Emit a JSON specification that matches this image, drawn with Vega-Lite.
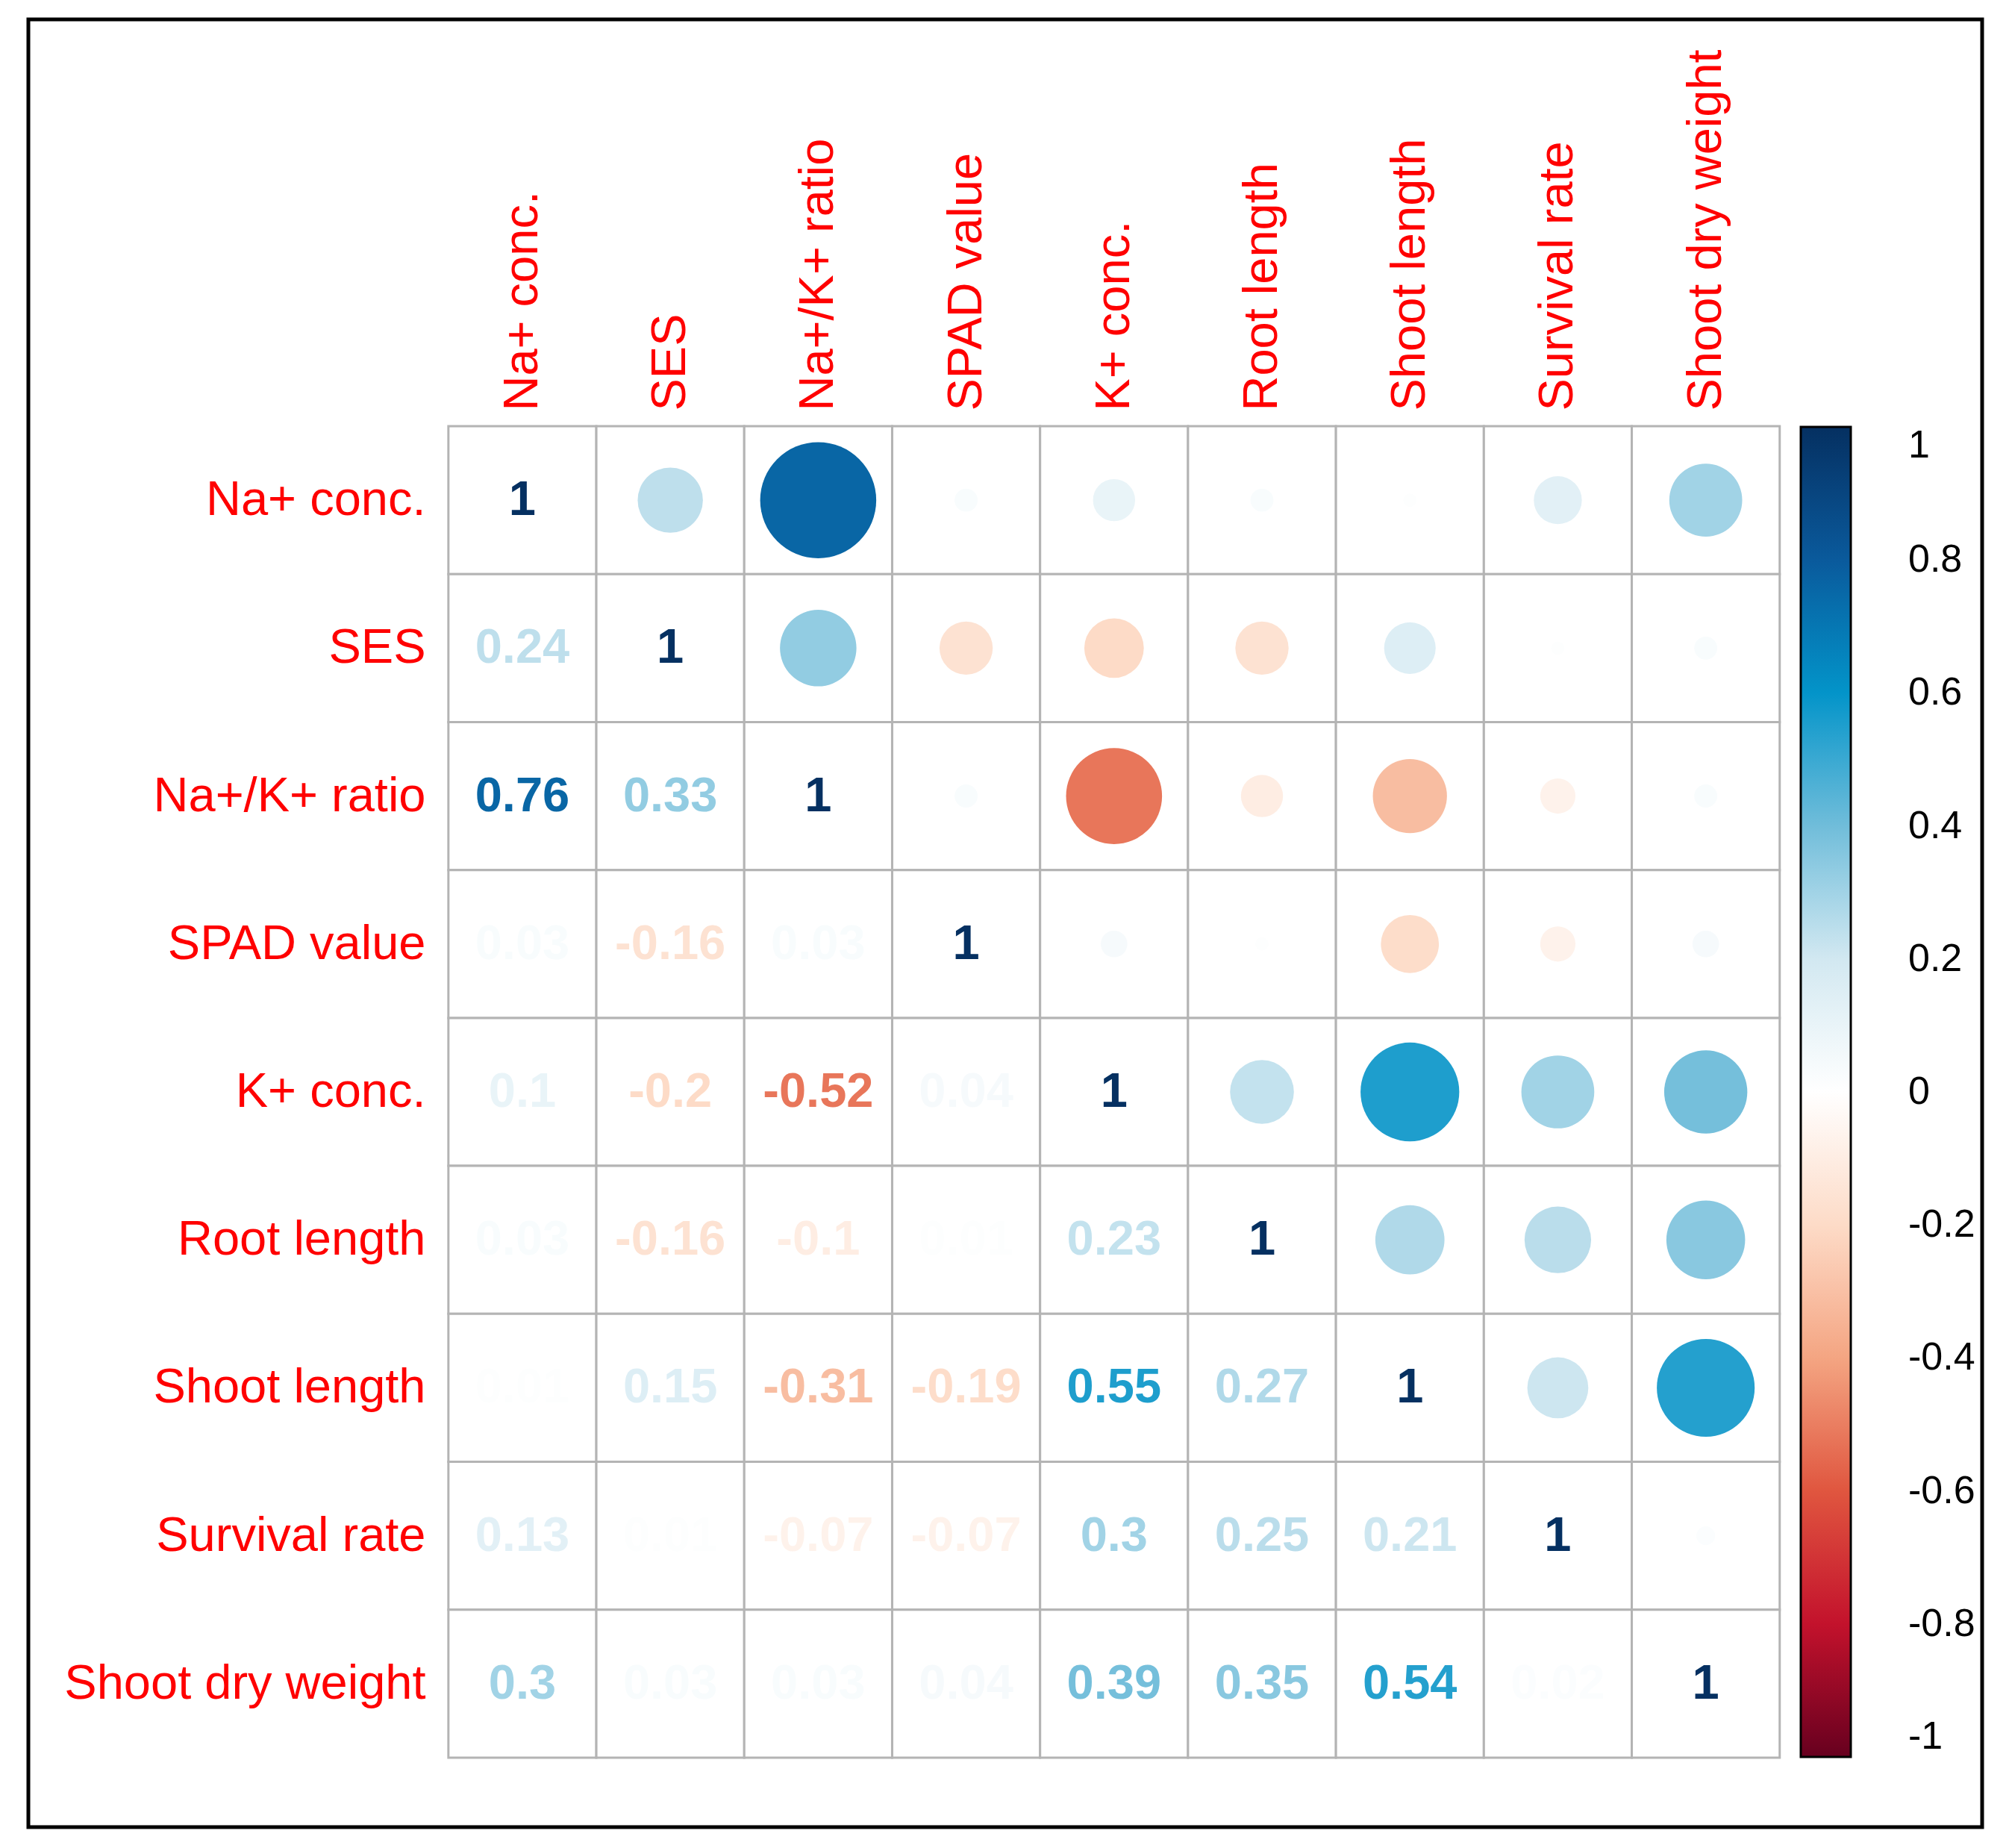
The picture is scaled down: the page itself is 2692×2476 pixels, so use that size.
{
  "$schema": "https://vega.github.io/schema/vega-lite/v6.json",
  "autosize": {"type": "none"},
  "width": 2618,
  "height": 2422,
  "padding": {"left": 38, "top": 26, "right": 36, "bottom": 28},
  "background": "white",
  "config": {
    "view": {"stroke": "black", "strokeWidth": 5, "fill": "white"},
    "font": "Liberation Sans"
  },
  "data": {"values": [
    {"row":"Na+ conc.","col":"Na+ conc.","r":1,"part":"diag"},
    {"row":"Na+ conc.","col":"SES","r":0.24,"part":"upper"},
    {"row":"Na+ conc.","col":"Na+/K+ ratio","r":0.76,"part":"upper"},
    {"row":"Na+ conc.","col":"SPAD value","r":0.03,"part":"upper"},
    {"row":"Na+ conc.","col":"K+ conc.","r":0.1,"part":"upper"},
    {"row":"Na+ conc.","col":"Root length","r":0.03,"part":"upper"},
    {"row":"Na+ conc.","col":"Shoot length","r":0.01,"part":"upper"},
    {"row":"Na+ conc.","col":"Survival rate","r":0.13,"part":"upper"},
    {"row":"Na+ conc.","col":"Shoot dry weight","r":0.3,"part":"upper"},
    {"row":"SES","col":"Na+ conc.","r":0.24,"part":"lower"},
    {"row":"SES","col":"SES","r":1,"part":"diag"},
    {"row":"SES","col":"Na+/K+ ratio","r":0.33,"part":"upper"},
    {"row":"SES","col":"SPAD value","r":-0.16,"part":"upper"},
    {"row":"SES","col":"K+ conc.","r":-0.2,"part":"upper"},
    {"row":"SES","col":"Root length","r":-0.16,"part":"upper"},
    {"row":"SES","col":"Shoot length","r":0.15,"part":"upper"},
    {"row":"SES","col":"Survival rate","r":0.01,"part":"upper"},
    {"row":"SES","col":"Shoot dry weight","r":0.03,"part":"upper"},
    {"row":"Na+/K+ ratio","col":"Na+ conc.","r":0.76,"part":"lower"},
    {"row":"Na+/K+ ratio","col":"SES","r":0.33,"part":"lower"},
    {"row":"Na+/K+ ratio","col":"Na+/K+ ratio","r":1,"part":"diag"},
    {"row":"Na+/K+ ratio","col":"SPAD value","r":0.03,"part":"upper"},
    {"row":"Na+/K+ ratio","col":"K+ conc.","r":-0.52,"part":"upper"},
    {"row":"Na+/K+ ratio","col":"Root length","r":-0.1,"part":"upper"},
    {"row":"Na+/K+ ratio","col":"Shoot length","r":-0.31,"part":"upper"},
    {"row":"Na+/K+ ratio","col":"Survival rate","r":-0.07,"part":"upper"},
    {"row":"Na+/K+ ratio","col":"Shoot dry weight","r":0.03,"part":"upper"},
    {"row":"SPAD value","col":"Na+ conc.","r":0.03,"part":"lower"},
    {"row":"SPAD value","col":"SES","r":-0.16,"part":"lower"},
    {"row":"SPAD value","col":"Na+/K+ ratio","r":0.03,"part":"lower"},
    {"row":"SPAD value","col":"SPAD value","r":1,"part":"diag"},
    {"row":"SPAD value","col":"K+ conc.","r":0.04,"part":"upper"},
    {"row":"SPAD value","col":"Root length","r":0.01,"part":"upper"},
    {"row":"SPAD value","col":"Shoot length","r":-0.19,"part":"upper"},
    {"row":"SPAD value","col":"Survival rate","r":-0.07,"part":"upper"},
    {"row":"SPAD value","col":"Shoot dry weight","r":0.04,"part":"upper"},
    {"row":"K+ conc.","col":"Na+ conc.","r":0.1,"part":"lower"},
    {"row":"K+ conc.","col":"SES","r":-0.2,"part":"lower"},
    {"row":"K+ conc.","col":"Na+/K+ ratio","r":-0.52,"part":"lower"},
    {"row":"K+ conc.","col":"SPAD value","r":0.04,"part":"lower"},
    {"row":"K+ conc.","col":"K+ conc.","r":1,"part":"diag"},
    {"row":"K+ conc.","col":"Root length","r":0.23,"part":"upper"},
    {"row":"K+ conc.","col":"Shoot length","r":0.55,"part":"upper"},
    {"row":"K+ conc.","col":"Survival rate","r":0.3,"part":"upper"},
    {"row":"K+ conc.","col":"Shoot dry weight","r":0.39,"part":"upper"},
    {"row":"Root length","col":"Na+ conc.","r":0.03,"part":"lower"},
    {"row":"Root length","col":"SES","r":-0.16,"part":"lower"},
    {"row":"Root length","col":"Na+/K+ ratio","r":-0.1,"part":"lower"},
    {"row":"Root length","col":"SPAD value","r":0.01,"part":"lower"},
    {"row":"Root length","col":"K+ conc.","r":0.23,"part":"lower"},
    {"row":"Root length","col":"Root length","r":1,"part":"diag"},
    {"row":"Root length","col":"Shoot length","r":0.27,"part":"upper"},
    {"row":"Root length","col":"Survival rate","r":0.25,"part":"upper"},
    {"row":"Root length","col":"Shoot dry weight","r":0.35,"part":"upper"},
    {"row":"Shoot length","col":"Na+ conc.","r":0.01,"part":"lower"},
    {"row":"Shoot length","col":"SES","r":0.15,"part":"lower"},
    {"row":"Shoot length","col":"Na+/K+ ratio","r":-0.31,"part":"lower"},
    {"row":"Shoot length","col":"SPAD value","r":-0.19,"part":"lower"},
    {"row":"Shoot length","col":"K+ conc.","r":0.55,"part":"lower"},
    {"row":"Shoot length","col":"Root length","r":0.27,"part":"lower"},
    {"row":"Shoot length","col":"Shoot length","r":1,"part":"diag"},
    {"row":"Shoot length","col":"Survival rate","r":0.21,"part":"upper"},
    {"row":"Shoot length","col":"Shoot dry weight","r":0.54,"part":"upper"},
    {"row":"Survival rate","col":"Na+ conc.","r":0.13,"part":"lower"},
    {"row":"Survival rate","col":"SES","r":0.01,"part":"lower"},
    {"row":"Survival rate","col":"Na+/K+ ratio","r":-0.07,"part":"lower"},
    {"row":"Survival rate","col":"SPAD value","r":-0.07,"part":"lower"},
    {"row":"Survival rate","col":"K+ conc.","r":0.3,"part":"lower"},
    {"row":"Survival rate","col":"Root length","r":0.25,"part":"lower"},
    {"row":"Survival rate","col":"Shoot length","r":0.21,"part":"lower"},
    {"row":"Survival rate","col":"Survival rate","r":1,"part":"diag"},
    {"row":"Survival rate","col":"Shoot dry weight","r":0.02,"part":"upper"},
    {"row":"Shoot dry weight","col":"Na+ conc.","r":0.3,"part":"lower"},
    {"row":"Shoot dry weight","col":"SES","r":0.03,"part":"lower"},
    {"row":"Shoot dry weight","col":"Na+/K+ ratio","r":0.03,"part":"lower"},
    {"row":"Shoot dry weight","col":"SPAD value","r":0.04,"part":"lower"},
    {"row":"Shoot dry weight","col":"K+ conc.","r":0.39,"part":"lower"},
    {"row":"Shoot dry weight","col":"Root length","r":0.35,"part":"lower"},
    {"row":"Shoot dry weight","col":"Shoot length","r":0.54,"part":"lower"},
    {"row":"Shoot dry weight","col":"Survival rate","r":0.02,"part":"lower"},
    {"row":"Shoot dry weight","col":"Shoot dry weight","r":1,"part":"diag"}
  ]},
  "transform": [
    {"calculate": "abs(datum.r)", "as": "absr"},
    {"calculate": "replace(format(datum.r, '.2~f'), '\u2212', '-')", "as": "label"}
  ],
  "encoding": {
    "x": {
      "field": "col", "type": "nominal",
      "scale": {
        "domain": [" ", "  ", "Na+ conc.","SES","Na+/K+ ratio","SPAD value","K+ conc.","Root length","Shoot length","Survival rate","Shoot dry weight", "   "],
        "paddingInner": 0, "paddingOuter": 0.604, "align": 0.695
      },
      "axis": {
        "orient": "top", "offset": -545, "title": null, "domain": false, "ticks": false, "grid": false,
        "labelAngle": -90, "labelAlign": "left", "labelBaseline": "middle", "labelPadding": 21,
        "labelFontSize": 65, "labelColor": "#FF0000", "labelFont": "Liberation Sans", "labelLimit": 2000
      }
    },
    "y": {
      "field": "row", "type": "nominal",
      "scale": {
        "domain": [" ", "  ", "Na+ conc.","SES","Na+/K+ ratio","SPAD value","K+ conc.","Root length","Shoot length","Survival rate","Shoot dry weight"],
        "paddingInner": 0, "paddingOuter": 0.6095, "align": 0.615
      },
      "axis": {
        "orient": "left", "offset": -563, "title": null, "domain": false, "ticks": false, "grid": false,
        "labelAlign": "right", "labelBaseline": "middle", "labelPadding": 31,
        "labelFontSize": 65, "labelColor": "#FF0000", "labelFont": "Liberation Sans", "labelLimit": 2000
      }
    }
  },
  "layer": [
    {
      "mark": {"type": "rect", "fill": "white", "stroke": "#B4B4B4", "strokeWidth": 3}
    },
    {
      "transform": [{"filter": "datum.part == 'upper'"}],
      "mark": {"type": "circle", "opacity": 1, "strokeWidth": 0},
      "encoding": {
        "size": {"field": "absr", "type": "quantitative", "scale": {"domain": [0, 1], "range": [0, 31820], "zero": true}, "legend": null},
        "color": {
          "field": "r", "type": "quantitative",
          "scale": {
            "domain": [-1, -0.8, -0.6, -0.4, -0.2, 0, 0.2, 0.4, 0.6, 0.8, 1],
            "range": ["#67001F", "#C3122C", "#E0563F", "#F4A582", "#FDDBC7", "#FFFFFF", "#D2E8F1", "#70BDDA", "#0394C9", "#0A5A9C", "#053061"],
            "interpolate": "rgb"
          },
          "legend": {
            "orient": "none", "legendX": 2375, "legendY": 546, "direction": "vertical",
            "title": null, "padding": 0,
            "gradientLength": 1782, "gradientThickness": 67,
            "gradientStrokeColor": "black", "gradientStrokeWidth": 3,
            "values": [-1, -0.8, -0.6, -0.4, -0.2, 0, 0.2, 0.4, 0.6, 0.8, 1],
            "labelExpr": "replace(format(datum.value, '.1~f'), '\u2212', '-')",
            "labelFontSize": 52, "labelColor": "black", "labelFont": "Liberation Sans",
            "labelAlign": "center", "labelBaseline": "middle", "labelOffset": 77, "labelOverlap": false
          }
        }
      }
    },
    {
      "transform": [{"filter": "datum.part != 'upper'"}],
      "mark": {"type": "text", "font": "Liberation Sans", "fontWeight": "bold", "fontSize": 65, "baseline": "middle", "align": "center"},
      "encoding": {
        "text": {"field": "label", "type": "nominal"},
        "color": {
          "field": "r", "type": "quantitative",
          "legend": {
            "orient": "none", "legendX": 2375, "legendY": 546, "direction": "vertical",
            "title": null, "padding": 0,
            "gradientLength": 1782, "gradientThickness": 67,
            "gradientStrokeColor": "black", "gradientStrokeWidth": 3,
            "values": [-1, -0.8, -0.6, -0.4, -0.2, 0, 0.2, 0.4, 0.6, 0.8, 1],
            "labelExpr": "replace(format(datum.value, '.1~f'), '\u2212', '-')",
            "labelFontSize": 52, "labelColor": "black", "labelFont": "Liberation Sans",
            "labelAlign": "center", "labelBaseline": "middle", "labelOffset": 77, "labelOverlap": false
          }
        }
      }
    }
  ]
}
